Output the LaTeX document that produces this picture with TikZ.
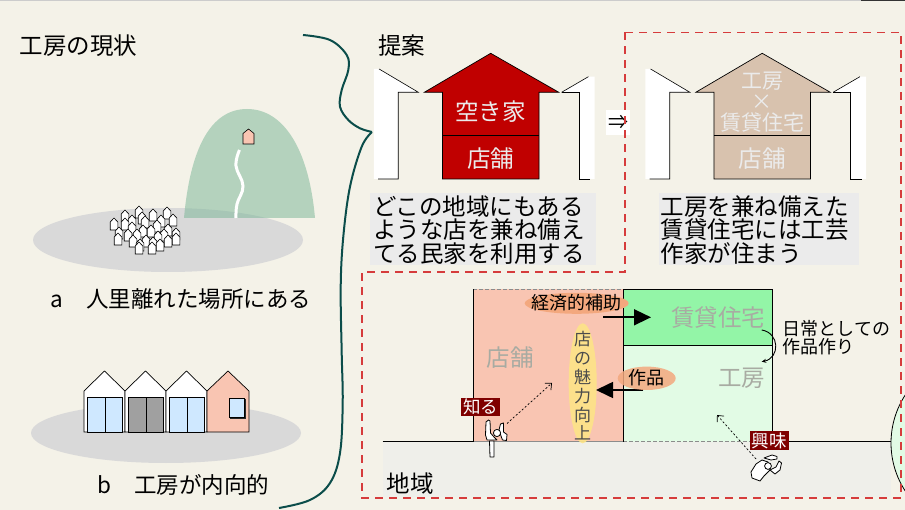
\documentclass[tikz,border=0pt]{standalone}
\usepackage{fontspec}
\setmainfont{Noto Sans CJK JP}
\usetikzlibrary{arrows.meta}

\definecolor{paper}{HTML}{F4F2E8}
\definecolor{shadow}{HTML}{D9D9D9}
\definecolor{hill}{HTML}{76B494}
\definecolor{brace}{HTML}{0B4D4A}
\definecolor{akiya}{HTML}{C00000}
\definecolor{wood}{HTML}{D8C2AE}
\definecolor{capgray}{HTML}{EBEBEB}
\definecolor{frame}{HTML}{D63C3C}
\definecolor{shop}{HTML}{F9C5B2}
\definecolor{rent}{HTML}{93F5A7}
\definecolor{atelier}{HTML}{E2FBE5}
\definecolor{ground}{HTML}{EFEFEA}
\definecolor{glass}{HTML}{CFE8FF}
\definecolor{shutter}{HTML}{A0A0A0}
\definecolor{bubble}{HTML}{F3A87E}
\definecolor{charm}{HTML}{FDE487}
\definecolor{tag}{HTML}{7F0000}
\definecolor{faded}{HTML}{A8ABA2}

\tikzset{
  hut/.style={draw=black,line width=0.6pt,fill=white},
  house/.style={draw=black,line width=0.7pt},
  edge/.style={draw=black,line width=0.6pt},
  title/.style={font=\fontsize{23.5}{23.5}\selectfont},
  label/.style={font=\fontsize{22.5}{22.5}\selectfont},
  caption/.style={anchor=north west,align=left,inner sep=0pt,
    font=\fontsize{23.5}{23.3}\selectfont},
  roomname/.style={text=faded,font=\fontsize{23.5}{23.5}\selectfont},
  onhouse/.style={text=white!92!black},
  stack/.style={onhouse,inner sep=0pt,font=\fontsize{21}{21}\selectfont},
  small/.style={font=\fontsize{18}{18.6}\selectfont},
  tagbox/.style={fill=tag,text=white,inner xsep=2pt,inner ysep=1pt,
    font=\fontsize{17.5}{17.5}\selectfont},
  bigarrow/.style={line width=1.6pt,-{Triangle[length=17pt,width=16pt]}},
  look/.style={line width=0.7pt,dash pattern=on 2pt off 2pt,
    -{Straight Barb[length=5pt,width=9pt]}},
  figure/.style={line width=0.8pt,line join=round,fill=white}
}

\begin{document}
\begin{tikzpicture}[x=1pt,y=-1pt]
  \useasboundingbox (0,0) rectangle (905,510);
  \fill[paper] (0,0) rectangle (905,510);
  \draw[black!20,line width=1.5pt] (0,0.5) -- (861,0.5);
  \draw[black!80,line width=1.5pt] (861,0.5) -- (905,0.5);

  % --- left half: the workshop as it is now
  \node[title] (now) at (78.5,46) {工房の現状};

  \fill[shadow] (168,240) ellipse (135 and 32);
  \fill[hill,opacity=0.5] (184,218) .. controls (190,150) and (210,109) .. (247,109)
    .. controls (284,109) and (309,150) .. (315,218) -- cycle;
  \draw[white,line width=3pt] plot[smooth,tension=0.7]
    coordinates {(239.5,150) (236,166) (243,186) (237,204) (236,218)};
  \filldraw[hut,fill=shop] (243,144) -- (243,133.5) -- (248.5,129) -- (254,133.5)
    -- (254,144) -- cycle;
  % village houses, back row first
  \foreach \x/\y in {139/206,167/207,153/209,125/210,142/212,173/214,132/215,161/215,
      145/216,114/218,125/218,157/220,132/222,168/224,143/225,151/225,119/227,
      176/228,137/229,128/229,164/229,158/231,176/233,118/233,168/235,133/235,
      146/235,153/237,140/239,160/239,139/242,152/242}
    \filldraw[hut] (\x-3.8,\y+12) -- (\x-3.8,\y+4) -- (\x,\y) -- (\x+3.8,\y+4)
      -- (\x+3.8,\y+12) -- cycle;
  \node[label] (remote) at (181,299) {a　人里離れた場所にある};

  \fill[shadow] (166,433) ellipse (135 and 30);
  \foreach \x/\pane in {84/glass,125/shutter,166/glass} {
    \filldraw[house,fill=white] (\x,432) -- (\x,391) -- (\x+20.5,371) -- (\x+41,391)
      -- (\x+41,432) -- cycle;
    \filldraw[house,fill=\pane] (\x+3.3,397) rectangle (\x+21,432);
    \filldraw[house,fill=\pane] (\x+21,397) rectangle (\x+38.7,432);
  }
  \filldraw[house,fill=shop] (207,432) -- (207,391) -- (228,371) -- (249,391)
    -- (249,432) -- cycle;
  \fill[black!85] (230,399) rectangle (246,419);
  \filldraw[house,line width=0.5pt,fill=glass] (229,398) rectangle (244.5,417.5);
  \node[label] (inward) at (183.5,485) {b　工房が内向的};

  \draw[brace,line width=2pt,line join=round] plot[smooth,tension=0.6] coordinates
    {(303,35) (330,40) (346.7,55) (348.3,70) (341.7,90) (340,106.7) (348.3,120)
     (360,128.3) (372,132)}
    plot[smooth,tension=0.6] coordinates
    {(372,132) (361.7,146.7) (350,186.7) (343.3,236.7) (340.7,286.7) (341.7,353)
     (342.7,403) (340,453) (330,483) (310,500) (279,508)};

  % --- proposal: house rows
  \node[title] (plan) at (401.5,46) {提案};
  \foreach \dx in {0,271.5} {
    \fill[white] (373.9+\dx,69) -- (379.1+\dx,69) -- (418.4+\dx,92.3) -- (398.2+\dx,92.3)
      -- (398.2+\dx,179) -- (373.9+\dx,179) -- cycle;
    \draw[edge] (379.1+\dx,69) -- (418.4+\dx,92.3) -- (398.2+\dx,92.3)
      -- (398.2+\dx,179) -- (378+\dx,179);
    \fill[white] (561.6+\dx,92.3) -- (588.4+\dx,76.7) -- (594.6+\dx,76.7)
      -- (594.6+\dx,179) -- (579+\dx,179) -- (579+\dx,92.3) -- cycle;
    \draw[edge] (561.6+\dx,92.3) -- (588.4+\dx,76.7);
    \draw[edge] (561.6+\dx,92.3) -- (579+\dx,92.3) -- (579+\dx,179) -- (590+\dx,179);
  }
  \filldraw[house,fill=akiya] (424.3,92.3) -- (490.7,53.3) -- (558.8,92.3) -- (539,92.3)
    -- (539,179) -- (442.4,179) -- (442.4,92.3) -- cycle;
  \draw[house] (442.4,135.7) -- (539,135.7);
  \node[title,onhouse] (vacant) at (490.7,111.7) {空き家};
  \node[title,onhouse] (store) at (490.7,158.3) {店舗};

  \filldraw[house,fill=wood] (695.8,92.3) -- (762.2,53.3) -- (830.3,92.3) -- (810.5,92.3)
    -- (810.5,179) -- (713.9,179) -- (713.9,92.3) -- cycle;
  \draw[house] (713.9,135.7) -- (810.5,135.7);
  \node[stack] (work) at (762.2,81.5) {工房};
  \node[stack] (times) at (762.2,102.5) {×};
  \node[stack] (rental) at (762.2,123) {賃貸住宅};
  \node[title,onhouse] (store2) at (762.2,158.3) {店舗};

  \node[fill=white,minimum width=24pt,minimum height=25pt,inner sep=0pt,
    font=\fontsize{20}{20}\selectfont] (then) at (618,122.5) {⇒};

  \fill[capgray] (370.4,193) rectangle (596.4,265);
  \node[caption] (cap1) at (373,195.5)
    {どこの地域にもある\\ような店を兼ね備え\\てる民家を利用する};
  \fill[capgray] (659,193) rectangle (858.8,265);
  \node[caption] (cap2) at (660.5,195.5)
    {工房を兼ね備えた\\賃貸住宅には工芸\\作家が住まう};

  % --- the area around the building
  \fill[ground] (382.6,441.7) rectangle (891,496.7);
  \filldraw[draw=black,line width=0.8pt,fill=atelier] (979,443) circle (88);
  \draw[black,line width=0.8pt] (382.6,441.7) -- (473.3,441.7);
  \draw[black,line width=0.8pt] (772.3,441.7) -- (891,441.7);

  \fill[shop] (473.3,289) rectangle (623.3,441.7);
  \draw[black!45,line width=0.6pt,dash pattern=on 4pt off 2pt] (473.3,289) -- (623.3,289);
  \draw[black!45,line width=0.6pt] (473.3,441.7) -- (623.3,441.7);
  \draw[black,line width=0.8pt] (473.3,441.7) -- (473.3,289);
  \fill[atelier] (623.3,345.7) rectangle (772.3,441.7);
  \draw[black!45,line width=0.6pt,dash pattern=on 4pt off 2pt] (623.3,441.7) -- (772.3,441.7);
  \filldraw[draw=black,line width=0.8pt,fill=rent] (623.3,289) rectangle (772.3,345.7);
  \draw[black,line width=0.8pt] (623.3,345.7) -- (623.3,441.7);
  \draw[black,line width=0.8pt] (772.3,345.7) -- (772.3,441.7);

  \node[roomname] (shopname) at (510,358) {店舗};
  \node[roomname] (rentname) at (718.3,317.3) {賃貸住宅};
  \node[roomname] (workname) at (741.7,378.3) {工房};

  \fill[charm,opacity=0.9] (582.7,383.3) ellipse (14 and 60);
  \node[align=center,inner sep=0pt,text=black!70,font=\fontsize{17}{18.8}\selectfont]
    (appeal) at (582.7,386) {店\\の\\魅\\力\\向\\上};

  \coordinate (aidS) at (603.3,317.3);
  \coordinate (aidE) at (651,317.3);
  \draw[bigarrow] (aidS) -- (aidE);
  \fill[bubble] (576.7,303.3) ellipse (52 and 10.5);
  \node[small] (aid) at (576.7,303) {経済的補助};

  \coordinate (workS) at (643.3,390);
  \coordinate (workE) at (596,390);
  \draw[bigarrow] (workS) -- (workE);
  \fill[bubble,opacity=0.85] (646.7,378.3) ellipse (29 and 11.7);
  \node[small] (works) at (646.7,378) {作品};

  \coordinate (dayS) at (761.7,330);
  \coordinate (dayE) at (761.7,361.7);
  \draw[line width=0.9pt,-{Stealth[length=4.5pt,width=4pt]}]
    (dayS) .. controls (780,333) and (780,358) .. (dayE);
  \node[small,anchor=north west,align=left,inner sep=0pt] (daily) at (782.5,320)
    {日常としての\\作品作り};

  % passer-by who notices the shop
  \draw[figure] (489.5,441) -- (490,457) -- (494,457) -- (494,441) -- cycle;
  \draw[figure] (485.5,435) -- (486,422) -- (488.5,420) -- (490,421) -- (490.5,433)
    -- (494,437) -- (497,440) -- (487,440) -- cycle;
  \draw[figure] (499,430) -- (500.5,424) -- (503.5,423) -- (503.5,432) -- (507,434.5)
    -- (506.5,440.5) -- (502.5,440) -- (501,436) -- cycle;
  \draw[figure] (497,433) circle (3.6);
  \coordinate (knowS) at (507,423.5);
  \coordinate (knowE) at (552,383);
  \draw[look] (knowS) -- (knowE);
  \node[tagbox] (know) at (480.8,407) {知る};

  % crouching visitor interested in the workshop
  \draw[figure] (752,478) -- (751,472) -- (756,464) -- (762,460) -- (768,462) -- (770,470)
    -- (764,476) -- (760,481) -- cycle;
  \draw[figure] (764,458) -- (772,455) -- (777,456.5) -- (777,459) -- (771,460) -- cycle;
  \draw[figure] (770,470) -- (776,467) -- (779,461) -- (781.5,463) -- (780,470)
    -- (775,474) -- cycle;
  \draw[figure] (768,466) circle (3.4);
  \coordinate (likeS) at (756,459);
  \coordinate (likeE) at (717,415);
  \draw[look] (likeS) -- (likeE);
  \node[tagbox] (like) at (769.2,440.5) {興味};

  \node[title] (area) at (410.4,483.3) {地域};

  % proposal frame
  \draw[frame,line width=1.2pt,dash pattern=on 8pt off 6pt]
    (625,32.3) -- (901,32.3) -- (901,498) -- (362,498) -- (362,272) -- (625,272) -- cycle;
\end{tikzpicture}
\end{document}
